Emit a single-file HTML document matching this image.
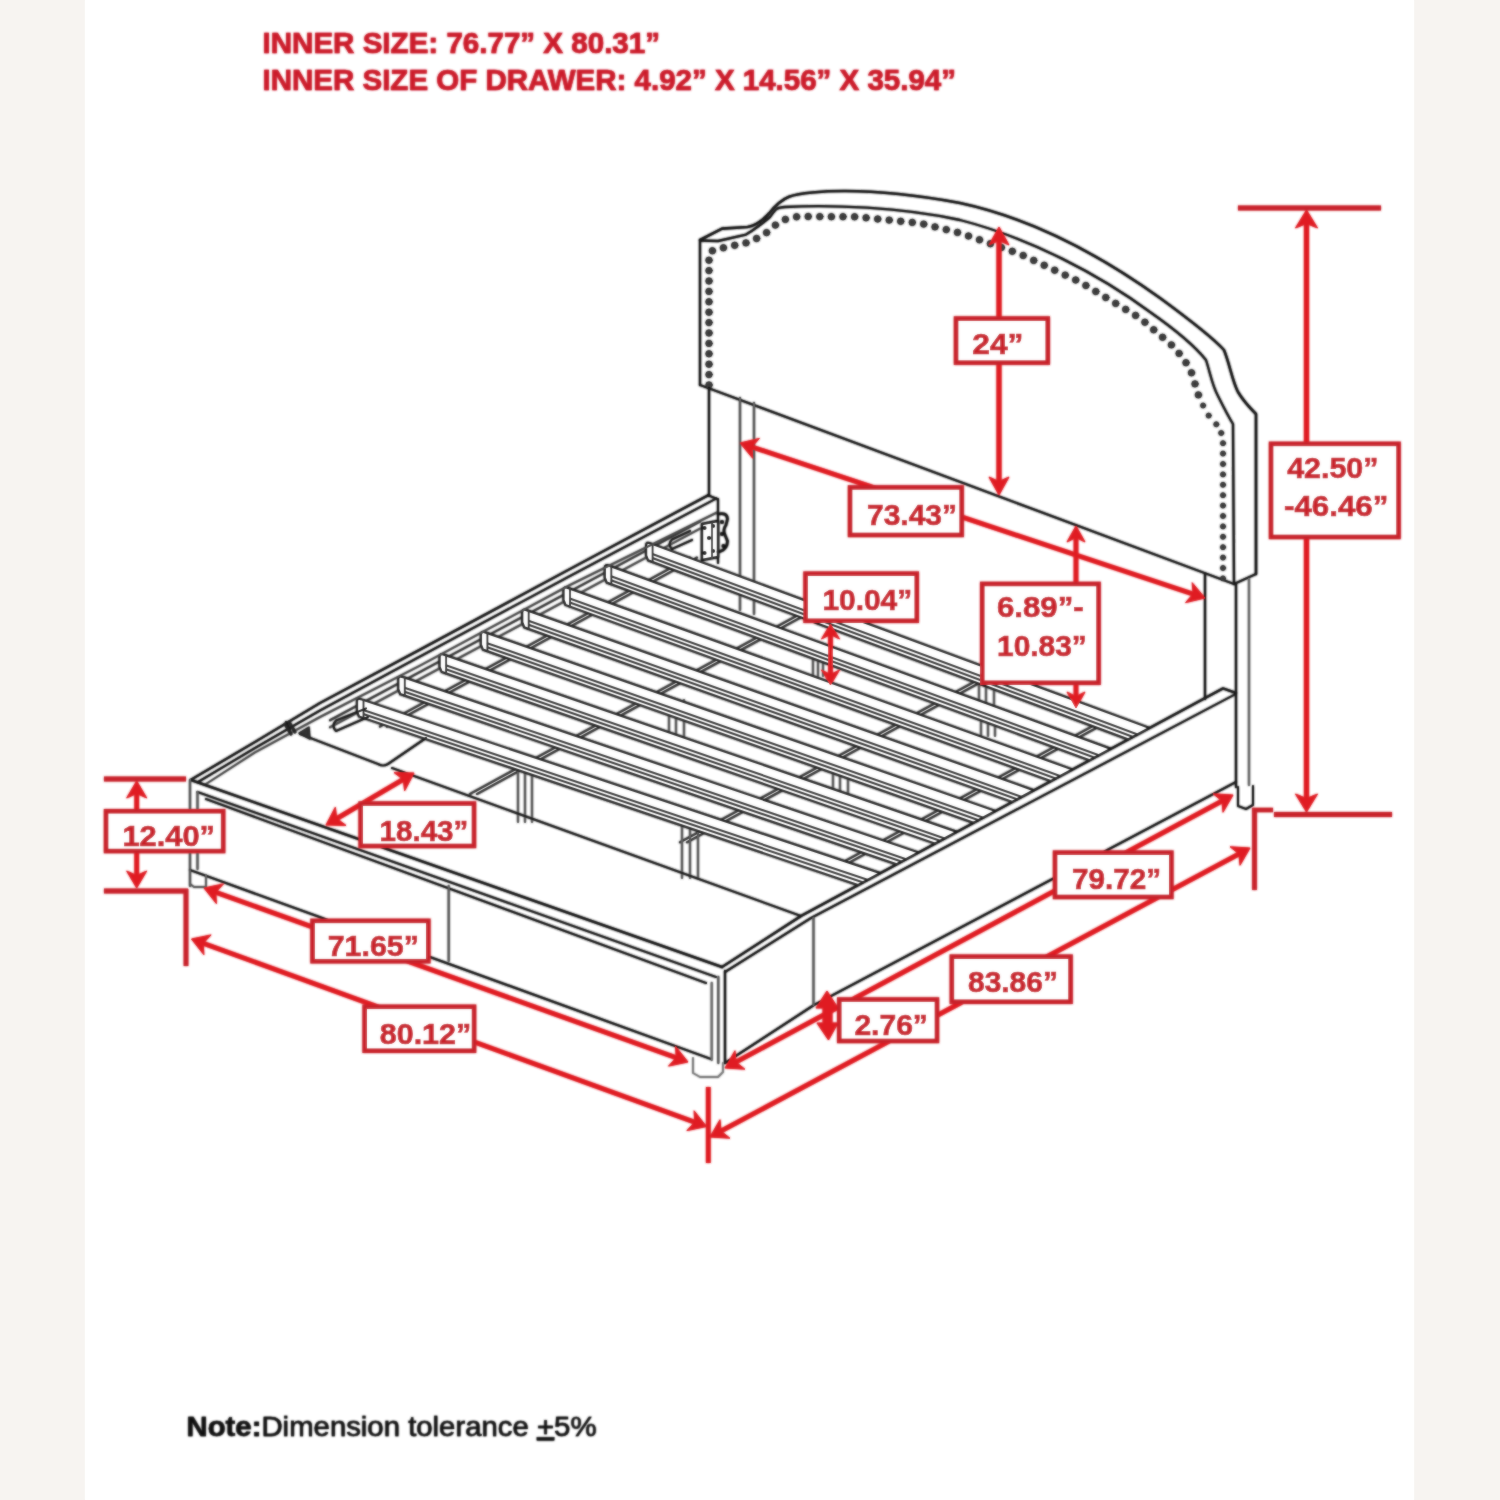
<!DOCTYPE html>
<html><head><meta charset="utf-8"><title>Bed dimensions</title>
<style>
html,body{margin:0;padding:0;width:1500px;height:1500px;overflow:hidden;background:#f7f4f1;}
#page{position:absolute;left:85px;top:0;width:1329px;height:1500px;background:#fff;box-shadow:0 0 1.5px #fafafa;}
svg{position:absolute;left:0;top:0;}
.t{font-family:"Liberation Sans",sans-serif;font-weight:bold;}
</style></head><body>
<div id="page"></div>
<svg width="1500" height="1500" viewBox="0 0 1500 1500">
<defs><filter id="soft" x="0" y="0" width="1500" height="1500" filterUnits="userSpaceOnUse"><feGaussianBlur stdDeviation="1"/></filter>
<clipPath id="sc"><path d="M250,300 L1300,300 L1300,646.9 L600,1024 L250,1024 Z"/></clipPath>
<g id="C">
<g class="t" fill="#cc1c2b" stroke="#cc1c2b" stroke-width="0.6" font-size="30">
<text x="262.5" y="53" textLength="397.5" lengthAdjust="spacingAndGlyphs">INNER SIZE: 76.77” X 80.31”</text>
<text x="262.5" y="90" textLength="693.5" lengthAdjust="spacingAndGlyphs">INNER SIZE OF DRAWER: 4.92” X 14.56” X 35.94”</text>
</g>
<g fill="none" stroke-linecap="round" stroke-linejoin="round">
<path d="M700,240 L722,228.6 L747.6,227 C756,225.5 763,220 769,213.5 C775,206 781,200 789,196.8 C796,194.2 803,193.3 812,192.5 C850,189 900,192 960,203 C1030,218 1100,255 1160,298 C1190,320 1215,340 1224,350 C1230,365 1232,380 1238,392 C1244,402 1250,408 1256,414 L1256,574" stroke="#141414" stroke-width="2.61" fill="none" />
<path d="M700,240.5 L718,241 L746,234.6 C752,231 756,228 759,225.8 C764,222 767,219.5 770,217 C773,213 775,210 777,208.6 C779,207.6 781,207.3 785,207 C830,204.5 900,207 960,220 C1030,238 1100,275 1150,312 C1180,333 1198,350 1206,360 C1210,372 1212,385 1218,396 C1224,408 1228,416 1233,424 L1234,584" stroke="#141414" stroke-width="2.32" fill="none" />
<line x1="700" y1="240" x2="700" y2="385" stroke="#141414" stroke-width="2.32" />
<line x1="700" y1="385" x2="1234" y2="584" stroke="#141414" stroke-width="2.32" />
<line x1="1256" y1="574" x2="1234" y2="584" stroke="#141414" stroke-width="2.32" />
<circle cx="709" cy="385" r="3.2" fill="#3c3c3c" stroke="#222" stroke-width="0.8"/>
<circle cx="709" cy="374.6" r="3.2" fill="#3c3c3c" stroke="#222" stroke-width="0.8"/>
<circle cx="709" cy="364.2" r="3.2" fill="#3c3c3c" stroke="#222" stroke-width="0.8"/>
<circle cx="709" cy="353.8" r="3.2" fill="#3c3c3c" stroke="#222" stroke-width="0.8"/>
<circle cx="709" cy="343.4" r="3.2" fill="#3c3c3c" stroke="#222" stroke-width="0.8"/>
<circle cx="709" cy="333" r="3.2" fill="#3c3c3c" stroke="#222" stroke-width="0.8"/>
<circle cx="709" cy="322.6" r="3.2" fill="#3c3c3c" stroke="#222" stroke-width="0.8"/>
<circle cx="709" cy="312.2" r="3.2" fill="#3c3c3c" stroke="#222" stroke-width="0.8"/>
<circle cx="709" cy="301.8" r="3.2" fill="#3c3c3c" stroke="#222" stroke-width="0.8"/>
<circle cx="709" cy="291.4" r="3.2" fill="#3c3c3c" stroke="#222" stroke-width="0.8"/>
<circle cx="709" cy="281" r="3.2" fill="#3c3c3c" stroke="#222" stroke-width="0.8"/>
<circle cx="709" cy="270.6" r="3.2" fill="#3c3c3c" stroke="#222" stroke-width="0.8"/>
<circle cx="709" cy="260.2" r="3.2" fill="#3c3c3c" stroke="#222" stroke-width="0.8"/>
<circle cx="712.4" cy="250.8" r="3.2" fill="#3c3c3c" stroke="#222" stroke-width="0.8"/>
<circle cx="723.4" cy="247.8" r="3.2" fill="#3c3c3c" stroke="#222" stroke-width="0.8"/>
<circle cx="734.7" cy="245.3" r="3.2" fill="#3c3c3c" stroke="#222" stroke-width="0.8"/>
<circle cx="746" cy="242.9" r="3.2" fill="#3c3c3c" stroke="#222" stroke-width="0.8"/>
<circle cx="756.6" cy="238.5" r="3.2" fill="#3c3c3c" stroke="#222" stroke-width="0.8"/>
<circle cx="766.6" cy="232.6" r="3.2" fill="#3c3c3c" stroke="#222" stroke-width="0.8"/>
<circle cx="775.4" cy="225.1" r="3.2" fill="#3c3c3c" stroke="#222" stroke-width="0.8"/>
<circle cx="785.4" cy="219.4" r="3.2" fill="#3c3c3c" stroke="#222" stroke-width="0.8"/>
<circle cx="796.6" cy="216.8" r="3.2" fill="#3c3c3c" stroke="#222" stroke-width="0.8"/>
<circle cx="808.2" cy="216.5" r="3.2" fill="#3c3c3c" stroke="#222" stroke-width="0.8"/>
<circle cx="819.8" cy="216.6" r="3.2" fill="#3c3c3c" stroke="#222" stroke-width="0.8"/>
<circle cx="831.4" cy="216.7" r="3.2" fill="#3c3c3c" stroke="#222" stroke-width="0.8"/>
<circle cx="843" cy="216.7" r="3.2" fill="#3c3c3c" stroke="#222" stroke-width="0.8"/>
<circle cx="854.6" cy="216.8" r="3.2" fill="#3c3c3c" stroke="#222" stroke-width="0.8"/>
<circle cx="866.1" cy="217.8" r="3.2" fill="#3c3c3c" stroke="#222" stroke-width="0.8"/>
<circle cx="877.7" cy="219" r="3.2" fill="#3c3c3c" stroke="#222" stroke-width="0.8"/>
<circle cx="889.2" cy="220.1" r="3.2" fill="#3c3c3c" stroke="#222" stroke-width="0.8"/>
<circle cx="900.7" cy="221.3" r="3.2" fill="#3c3c3c" stroke="#222" stroke-width="0.8"/>
<circle cx="912.3" cy="222.4" r="3.2" fill="#3c3c3c" stroke="#222" stroke-width="0.8"/>
<circle cx="923.7" cy="224.1" r="3.2" fill="#3c3c3c" stroke="#222" stroke-width="0.8"/>
<circle cx="935" cy="226.9" r="3.2" fill="#3c3c3c" stroke="#222" stroke-width="0.8"/>
<circle cx="946.3" cy="229.6" r="3.2" fill="#3c3c3c" stroke="#222" stroke-width="0.8"/>
<circle cx="957.5" cy="232.4" r="3.2" fill="#3c3c3c" stroke="#222" stroke-width="0.8"/>
<circle cx="968.5" cy="236" r="3.2" fill="#3c3c3c" stroke="#222" stroke-width="0.8"/>
<circle cx="979.5" cy="239.8" r="3.2" fill="#3c3c3c" stroke="#222" stroke-width="0.8"/>
<circle cx="990.4" cy="243.7" r="3.2" fill="#3c3c3c" stroke="#222" stroke-width="0.8"/>
<circle cx="1001.4" cy="247.5" r="3.2" fill="#3c3c3c" stroke="#222" stroke-width="0.8"/>
<circle cx="1012.3" cy="251.3" r="3.2" fill="#3c3c3c" stroke="#222" stroke-width="0.8"/>
<circle cx="1023.2" cy="255.5" r="3.2" fill="#3c3c3c" stroke="#222" stroke-width="0.8"/>
<circle cx="1033.7" cy="260.4" r="3.2" fill="#3c3c3c" stroke="#222" stroke-width="0.8"/>
<circle cx="1044.2" cy="265.3" r="3.2" fill="#3c3c3c" stroke="#222" stroke-width="0.8"/>
<circle cx="1054.7" cy="270.2" r="3.2" fill="#3c3c3c" stroke="#222" stroke-width="0.8"/>
<circle cx="1065.2" cy="275.1" r="3.2" fill="#3c3c3c" stroke="#222" stroke-width="0.8"/>
<circle cx="1075.7" cy="280" r="3.2" fill="#3c3c3c" stroke="#222" stroke-width="0.8"/>
<circle cx="1085.9" cy="285.5" r="3.2" fill="#3c3c3c" stroke="#222" stroke-width="0.8"/>
<circle cx="1095.8" cy="291.5" r="3.2" fill="#3c3c3c" stroke="#222" stroke-width="0.8"/>
<circle cx="1105.8" cy="297.5" r="3.2" fill="#3c3c3c" stroke="#222" stroke-width="0.8"/>
<circle cx="1115.7" cy="303.4" r="3.2" fill="#3c3c3c" stroke="#222" stroke-width="0.8"/>
<circle cx="1125.7" cy="309.4" r="3.2" fill="#3c3c3c" stroke="#222" stroke-width="0.8"/>
<circle cx="1135.6" cy="315.4" r="3.2" fill="#3c3c3c" stroke="#222" stroke-width="0.8"/>
<circle cx="1144.9" cy="322.2" r="3.2" fill="#3c3c3c" stroke="#222" stroke-width="0.8"/>
<circle cx="1153.7" cy="329.8" r="3.2" fill="#3c3c3c" stroke="#222" stroke-width="0.8"/>
<circle cx="1162.6" cy="337.3" r="3.2" fill="#3c3c3c" stroke="#222" stroke-width="0.8"/>
<circle cx="1171.4" cy="344.9" r="3.2" fill="#3c3c3c" stroke="#222" stroke-width="0.8"/>
<circle cx="1179.1" cy="353.4" r="3.2" fill="#3c3c3c" stroke="#222" stroke-width="0.8"/>
<circle cx="1186" cy="362.7" r="3.2" fill="#3c3c3c" stroke="#222" stroke-width="0.8"/>
<circle cx="1191.5" cy="372.8" r="3.2" fill="#3c3c3c" stroke="#222" stroke-width="0.8"/>
<circle cx="1195" cy="383.9" r="3.2" fill="#3c3c3c" stroke="#222" stroke-width="0.8"/>
<circle cx="1198.4" cy="394.9" r="3.2" fill="#3c3c3c" stroke="#222" stroke-width="0.8"/>
<circle cx="1203.1" cy="405.5" r="2.5" fill="#3c3c3c" stroke="#222" stroke-width="0.8"/>
<circle cx="1208.7" cy="415.6" r="2.5" fill="#3c3c3c" stroke="#222" stroke-width="0.8"/>
<circle cx="1216.3" cy="424.3" r="2.5" fill="#3c3c3c" stroke="#222" stroke-width="0.8"/>
<circle cx="1221.2" cy="433" r="2.5" fill="#3c3c3c" stroke="#222" stroke-width="0.8"/>
<circle cx="1223" cy="443.2" r="2.5" fill="#3c3c3c" stroke="#222" stroke-width="0.8"/>
<circle cx="1223" cy="453.6" r="2.5" fill="#3c3c3c" stroke="#222" stroke-width="0.8"/>
<circle cx="1223" cy="464" r="2.5" fill="#3c3c3c" stroke="#222" stroke-width="0.8"/>
<circle cx="1223" cy="474.4" r="2.5" fill="#3c3c3c" stroke="#222" stroke-width="0.8"/>
<circle cx="1223" cy="484.8" r="2.5" fill="#3c3c3c" stroke="#222" stroke-width="0.8"/>
<circle cx="1223" cy="495.2" r="2.5" fill="#3c3c3c" stroke="#222" stroke-width="0.8"/>
<circle cx="1223" cy="505.6" r="2.5" fill="#3c3c3c" stroke="#222" stroke-width="0.8"/>
<circle cx="1223" cy="516" r="2.5" fill="#3c3c3c" stroke="#222" stroke-width="0.8"/>
<circle cx="1223" cy="526.4" r="2.5" fill="#3c3c3c" stroke="#222" stroke-width="0.8"/>
<circle cx="1223" cy="536.8" r="2.5" fill="#3c3c3c" stroke="#222" stroke-width="0.8"/>
<circle cx="1223" cy="547.2" r="2.5" fill="#3c3c3c" stroke="#222" stroke-width="0.8"/>
<circle cx="1223" cy="557.6" r="2.5" fill="#3c3c3c" stroke="#222" stroke-width="0.8"/>
<circle cx="1223" cy="568" r="2.5" fill="#3c3c3c" stroke="#222" stroke-width="0.8"/>
<circle cx="1223" cy="578.4" r="2.5" fill="#3c3c3c" stroke="#222" stroke-width="0.8"/>
<line x1="709" y1="388" x2="709" y2="496" stroke="#141414" stroke-width="2.32" />
<line x1="740" y1="398" x2="740" y2="610" stroke="#555" stroke-width="2.32" />
<line x1="754" y1="403" x2="754" y2="614" stroke="#555" stroke-width="2.32" />
<line x1="1205" y1="574" x2="1205" y2="699" stroke="#141414" stroke-width="2.32" />
<line x1="1236" y1="584" x2="1236" y2="787" stroke="#141414" stroke-width="2.32" />
<line x1="1249" y1="579" x2="1249" y2="785" stroke="#666" stroke-width="2.32" />
<path d="M1238,787 L1238,806 L1246,809 L1253,805 L1253,786" stroke="#141414" stroke-width="2.03" fill="none" />
</g>
<g stroke-linecap="round" stroke-linejoin="round" clip-path="url(#sc)">
<line x1="330" y1="720.3" x2="700" y2="521.6" stroke="#333" stroke-width="2.175" />
<line x1="330" y1="727.3" x2="700" y2="528.6" stroke="#444" stroke-width="2.175" />
<path d="M380,726.6 L690,557.6 L697,557.6 L387,726.6 Z" fill="#d8d8d8" stroke="none"/>
<line x1="380" y1="726.6" x2="690" y2="557.6" stroke="#333" stroke-width="2.32" />
<line x1="387" y1="726.6" x2="697" y2="557.6" stroke="#333" stroke-width="2.32" />
<path d="M470,793.9 L800,614 L807,614 L477,793.9 Z" fill="#d8d8d8" stroke="none"/>
<line x1="470" y1="793.9" x2="800" y2="614" stroke="#333" stroke-width="2.32" />
<line x1="477" y1="793.9" x2="807" y2="614" stroke="#333" stroke-width="2.32" />
<path d="M680,842.3 L985,676.1 L992,676.1 L687,842.3 Z" fill="#d8d8d8" stroke="none"/>
<line x1="680" y1="842.3" x2="985" y2="676.1" stroke="#333" stroke-width="2.32" />
<line x1="687" y1="842.3" x2="992" y2="676.1" stroke="#333" stroke-width="2.32" />
<path d="M825,871.9 L1108,717.7 L1115,717.7 L832,871.9 Z" fill="#d8d8d8" stroke="none"/>
<line x1="825" y1="871.9" x2="1108" y2="717.7" stroke="#333" stroke-width="2.32" />
<line x1="832" y1="871.9" x2="1115" y2="717.7" stroke="#333" stroke-width="2.32" />
<line x1="518" y1="772" x2="518" y2="822" stroke="#555" stroke-width="2.175" />
<line x1="525" y1="772" x2="525" y2="822" stroke="#555" stroke-width="2.175" />
<line x1="532" y1="772" x2="532" y2="822" stroke="#555" stroke-width="2.175" />
<line x1="682" y1="826" x2="682" y2="878" stroke="#555" stroke-width="2.175" />
<line x1="690" y1="826" x2="690" y2="878" stroke="#555" stroke-width="2.175" />
<line x1="698" y1="826" x2="698" y2="878" stroke="#555" stroke-width="2.175" />
<line x1="669" y1="700" x2="669" y2="738" stroke="#555" stroke-width="2.175" />
<line x1="676" y1="700" x2="676" y2="738" stroke="#555" stroke-width="2.175" />
<line x1="684" y1="700" x2="684" y2="738" stroke="#555" stroke-width="2.175" />
<line x1="813" y1="650" x2="813" y2="676" stroke="#555" stroke-width="2.175" />
<line x1="818" y1="650" x2="818" y2="676" stroke="#555" stroke-width="2.175" />
<line x1="823" y1="650" x2="823" y2="676" stroke="#555" stroke-width="2.175" />
<line x1="833" y1="768" x2="833" y2="798" stroke="#555" stroke-width="2.175" />
<line x1="840" y1="768" x2="840" y2="798" stroke="#555" stroke-width="2.175" />
<line x1="848" y1="768" x2="848" y2="798" stroke="#555" stroke-width="2.175" />
<line x1="979" y1="682" x2="979" y2="705" stroke="#555" stroke-width="2.175" />
<line x1="986" y1="682" x2="986" y2="705" stroke="#555" stroke-width="2.175" />
<line x1="994" y1="682" x2="994" y2="705" stroke="#555" stroke-width="2.175" />
<line x1="981" y1="714" x2="981" y2="736" stroke="#555" stroke-width="2.175" />
<line x1="988" y1="714" x2="988" y2="736" stroke="#555" stroke-width="2.175" />
<line x1="995" y1="714" x2="995" y2="736" stroke="#555" stroke-width="2.175" />
<path d="M362,699.5 Q619.7,785.8 880.4,873.2 L885.4,894.3 Q619.7,804.6 359,716.5 L357,711.5 L357,701.5 Q357,697.5 362,699.5 Z" fill="#fff" stroke="#141414" stroke-width="2.3"/>
<path d="M364,710.2 Q619.7,796.3 883.1,885.1" fill="none" stroke="#262626" stroke-width="2.1"/>
<path d="M364,714.2 Q619.7,800.3 884.1,889.4" fill="none" stroke="#262626" stroke-width="2.1"/>
<path d="M363.5,700 L363.5,718" fill="none" stroke="#262626" stroke-width="1.9"/>
<path d="M403.3,677.2 Q659.5,764.3 918.7,852.5 L923.7,873.7 Q659.5,783.1 400.3,694.2 L398.3,689.2 L398.3,679.2 Q398.3,675.2 403.3,677.2 Z" fill="#fff" stroke="#141414" stroke-width="2.3"/>
<path d="M405.3,687.9 Q659.5,774.8 921.5,864.4" fill="none" stroke="#262626" stroke-width="2.1"/>
<path d="M405.3,691.9 Q659.5,778.8 922.5,868.7" fill="none" stroke="#262626" stroke-width="2.1"/>
<path d="M404.8,677.7 L404.8,695.7" fill="none" stroke="#262626" stroke-width="1.9"/>
<path d="M444.6,654.9 Q699.4,742.8 957.1,831.8 L962.1,853 Q699.4,761.6 441.6,671.9 L439.6,666.9 L439.6,656.9 Q439.6,652.9 444.6,654.9 Z" fill="#fff" stroke="#141414" stroke-width="2.3"/>
<path d="M446.6,665.6 Q699.4,753.3 959.9,843.7" fill="none" stroke="#262626" stroke-width="2.1"/>
<path d="M446.6,669.6 Q699.4,757.3 960.9,848.1" fill="none" stroke="#262626" stroke-width="2.1"/>
<path d="M446.1,655.4 L446.1,673.4" fill="none" stroke="#262626" stroke-width="1.9"/>
<path d="M485.9,632.6 Q739.2,721.3 995.6,811 L1000.6,832.3 Q739.2,740.1 482.9,649.6 L480.9,644.6 L480.9,634.6 Q480.9,630.6 485.9,632.6 Z" fill="#fff" stroke="#141414" stroke-width="2.3"/>
<path d="M487.9,643.4 Q739.2,731.8 998.3,823" fill="none" stroke="#262626" stroke-width="2.1"/>
<path d="M487.9,647.4 Q739.2,735.8 999.3,827.4" fill="none" stroke="#262626" stroke-width="2.1"/>
<path d="M487.4,633.1 L487.4,651.1" fill="none" stroke="#262626" stroke-width="1.9"/>
<path d="M527.2,610.4 Q779.1,699.8 1034.1,790.3 L1039.1,811.6 Q779.1,718.6 524.2,627.3 L522.2,622.3 L522.2,612.3 Q522.2,608.3 527.2,610.4 Z" fill="#fff" stroke="#141414" stroke-width="2.3"/>
<path d="M529.2,621.1 Q779.1,710.3 1036.8,802.3" fill="none" stroke="#262626" stroke-width="2.1"/>
<path d="M529.2,625.1 Q779.1,714.3 1037.8,806.6" fill="none" stroke="#262626" stroke-width="2.1"/>
<path d="M528.7,610.8 L528.7,628.8" fill="none" stroke="#262626" stroke-width="1.9"/>
<path d="M568.5,588.1 Q819,678.3 1072.6,769.5 L1077.6,790.8 Q819,697 565.5,605 L563.5,600 L563.5,590 Q563.5,586 568.5,588.1 Z" fill="#fff" stroke="#141414" stroke-width="2.3"/>
<path d="M570.5,598.8 Q819,688.8 1075.3,781.5" fill="none" stroke="#262626" stroke-width="2.1"/>
<path d="M570.5,602.8 Q819,692.8 1076.3,785.9" fill="none" stroke="#262626" stroke-width="2.1"/>
<path d="M570,588.5 L570,606.5" fill="none" stroke="#262626" stroke-width="1.9"/>
<path d="M609.8,565.8 Q859,656.7 1111.1,748.8 L1116.1,770.1 Q859,675.5 606.8,582.7 L604.8,577.7 L604.8,567.7 Q604.8,563.7 609.8,565.8 Z" fill="#fff" stroke="#141414" stroke-width="2.3"/>
<path d="M611.8,576.5 Q859,667.2 1113.9,760.8" fill="none" stroke="#262626" stroke-width="2.1"/>
<path d="M611.8,580.5 Q859,671.2 1114.9,765.1" fill="none" stroke="#262626" stroke-width="2.1"/>
<path d="M611.3,566.2 L611.3,584.2" fill="none" stroke="#262626" stroke-width="1.9"/>
<path d="M651.1,543.5 Q898.9,635.2 1149.7,728 L1154.7,749.3 Q898.9,653.9 648.1,560.4 L646.1,555.4 L646.1,545.4 Q646.1,541.4 651.1,543.5 Z" fill="#fff" stroke="#141414" stroke-width="2.3"/>
<path d="M653.1,554.2 Q898.9,645.7 1152.4,740" fill="none" stroke="#262626" stroke-width="2.1"/>
<path d="M653.1,558.2 Q898.9,649.7 1153.4,744.4" fill="none" stroke="#262626" stroke-width="2.1"/>
<path d="M652.6,543.9 L652.6,561.9" fill="none" stroke="#262626" stroke-width="1.9"/>
</g>
<g fill="none" stroke-linecap="round" stroke-linejoin="round">
<path d="M190.5,780 L255,742 L320,703 L420,649.6 L570,569 L708,495.3" stroke="#141414" stroke-width="2.465" fill="none" />
<path d="M198,782 L255,748 L320,710.5 L420,656.5 L570,576 L716,498.6" stroke="#141414" stroke-width="2.175" fill="none" />
<path d="M206,784 L255,752.3 L320,717 L420,665.6 L570,585 L718,512" stroke="#444" stroke-width="2.03" fill="none" />
<line x1="716" y1="498.6" x2="718" y2="499" stroke="#141414" stroke-width="2.175" />
<line x1="718" y1="499.5" x2="718" y2="563" stroke="#141414" stroke-width="2.175" />
<line x1="708" y1="495.3" x2="716" y2="498.6" stroke="#141414" stroke-width="2.175" />
<path d="M702,524 L718,521 L718,557 L702,560 Z" stroke="#111" stroke-width="2.465" fill="#fff" />
<path d="M718,514 Q727,512 727.5,519 L726,525 Q722.5,530 725,535 L727.5,541 Q727.5,549 720,551.5 L718,552" stroke="#111" stroke-width="2.755" fill="none" />
<circle cx="704.5" cy="528" r="2.1" fill="#111"/>
<circle cx="713" cy="526" r="2.1" fill="#111"/>
<circle cx="709" cy="538" r="2.1" fill="#111"/>
<circle cx="704.5" cy="553" r="2.1" fill="#111"/>
<circle cx="713" cy="551" r="2.1" fill="#111"/>
<circle cx="722" cy="522" r="2.1" fill="#111"/>
<circle cx="723.5" cy="546" r="2.1" fill="#111"/>
<circle cx="722" cy="534" r="2.1" fill="#111"/>
<line x1="712" y1="523" x2="712" y2="558" stroke="#333" stroke-width="1.885" />
<line x1="286" y1="722" x2="290" y2="730" stroke="#141414" stroke-width="2.32" />
<line x1="191" y1="780" x2="722" y2="967" stroke="#141414" stroke-width="2.465" />
<line x1="197.5" y1="792" x2="716" y2="977" stroke="#141414" stroke-width="2.175" />
<line x1="206" y1="799" x2="706" y2="983" stroke="#141414" stroke-width="2.175" />
<line x1="190" y1="780" x2="190" y2="886" stroke="#555" stroke-width="2.32" />
<line x1="197.5" y1="792" x2="197.5" y2="869" stroke="#555" stroke-width="2.32" />
<line x1="190" y1="870" x2="711" y2="1059" stroke="#141414" stroke-width="2.32" />
<line x1="448.7" y1="886" x2="448.7" y2="961" stroke="#555" stroke-width="2.32" />
<path d="M190,870 L190,884 L194,887 L206,887 L206,875" stroke="#555" stroke-width="1.885" fill="none" />
<line x1="711.7" y1="983" x2="711.7" y2="1060" stroke="#666" stroke-width="2.32" />
<line x1="718.3" y1="977" x2="718.3" y2="1063" stroke="#555" stroke-width="2.32" />
<line x1="725" y1="971" x2="725" y2="1063" stroke="#141414" stroke-width="2.32" />
<path d="M693,1058 L693,1073 L700,1077 L718,1077 L723,1072 L723,1063" stroke="#777" stroke-width="1.885" fill="none" />
<path d="M722,967 L801.6,915.6 L1223,688.4 L1236,693" stroke="#141414" stroke-width="2.465" fill="none" />
<path d="M725,972 L811,918 L1235,694.4" stroke="#141414" stroke-width="2.175" fill="none" />
<path d="M725,1063 L814,1005 L1236,782" stroke="#141414" stroke-width="2.32" fill="none" />
<line x1="813.5" y1="918" x2="813.5" y2="1005" stroke="#555" stroke-width="2.32" />
<path d="M300,734 L378,764 Q383,767 388,764 L426,738" stroke="#141414" stroke-width="2.175" fill="none" />
<line x1="392" y1="768" x2="801" y2="916" stroke="#141414" stroke-width="2.175" />
<path d="M366,708.5 L336,720.5 Q331,726 336,731 L368,717" stroke="#141414" stroke-width="2.175" fill="none" />
<path d="M690,531 L672,539.5 Q667,544 672,549 L692,540" stroke="#141414" stroke-width="2.175" fill="none" />
<path d="M299,733 L309,727 L310,739 Z" stroke="#222" stroke-width="1.45" fill="#333" />
<line x1="285" y1="724" x2="291" y2="734" stroke="#222" stroke-width="3.19" />
<line x1="289" y1="722" x2="295" y2="732" stroke="#222" stroke-width="3.19" />
</g>
<line x1="1238" y1="208" x2="1381" y2="208" stroke="#c9222b" stroke-width="5" />
<line x1="1274" y1="814.5" x2="1392" y2="814.5" stroke="#c9222b" stroke-width="5" />
<line x1="1252.5" y1="810" x2="1273" y2="810" stroke="#c9222b" stroke-width="4.5" />
<line x1="1254.5" y1="808" x2="1254.5" y2="890" stroke="#c9222b" stroke-width="4.8" />
<line x1="1306.5" y1="218" x2="1306.5" y2="804" stroke="#e01b22" stroke-width="5.2" />
<path d="M1306.5,812 L1295.5,794 L1306.5,798.5 L1317.5,794 Z" fill="#e01b22" stroke="#e01b22" stroke-width="1" stroke-linejoin="round"/>
<path d="M1306.5,210 L1317.5,228 L1306.5,223.5 L1295.5,228 Z" fill="#e01b22" stroke="#e01b22" stroke-width="1" stroke-linejoin="round"/>
<rect x="1271.1" y="443.9" width="127.4" height="93" fill="#fff" stroke="#c9222b" stroke-width="4.6"/>
<text x="1287.2" y="478.4" textLength="91.3" lengthAdjust="spacingAndGlyphs" class="t" font-size="30" fill="#c9222b" stroke="#c9222b" stroke-width="0.7">42.50”</text>
<text x="1284" y="516" textLength="104.3" lengthAdjust="spacingAndGlyphs" class="t" font-size="30" fill="#c9222b" stroke="#c9222b" stroke-width="0.7">-46.46”</text>
<line x1="999" y1="235" x2="999" y2="487" stroke="#e01b22" stroke-width="5.2" />
<path d="M999,495 L989,477 L999,481.5 L1009,477 Z" fill="#e01b22" stroke="#e01b22" stroke-width="1" stroke-linejoin="round"/>
<path d="M999,227 L1009,245 L999,240.5 L989,245 Z" fill="#e01b22" stroke="#e01b22" stroke-width="1" stroke-linejoin="round"/>
<rect x="956.1" y="318.6" width="91.6" height="44" fill="#fff" stroke="#c9222b" stroke-width="4.6"/>
<text x="972.3" y="354.2" textLength="51.2" lengthAdjust="spacingAndGlyphs" class="t" font-size="30" fill="#c9222b" stroke="#c9222b" stroke-width="0.7">24”</text>
<line x1="747.6" y1="445.5" x2="1197.4" y2="595.5" stroke="#e01b22" stroke-width="4.8" />
<path d="M1205,598 L1185.6,602.6 L1193.1,594 L1192.2,582.7 Z" fill="#e01b22" stroke="#e01b22" stroke-width="1" stroke-linejoin="round"/>
<path d="M740,443 L759.4,438.4 L751.9,447 L752.8,458.3 Z" fill="#e01b22" stroke="#e01b22" stroke-width="1" stroke-linejoin="round"/>
<rect x="850.1" y="487.5" width="111.5" height="47.4" fill="#fff" stroke="#c9222b" stroke-width="4.6"/>
<text x="867" y="524.6" textLength="90" lengthAdjust="spacingAndGlyphs" class="t" font-size="30" fill="#c9222b" stroke="#c9222b" stroke-width="0.7">73.43”</text>
<rect x="805.6" y="573.7" width="111.1" height="47" fill="#fff" stroke="#c9222b" stroke-width="4.6"/>
<text x="822.4" y="609.6" textLength="89.8" lengthAdjust="spacingAndGlyphs" class="t" font-size="30" fill="#c9222b" stroke="#c9222b" stroke-width="0.7">10.04”</text>
<line x1="830.5" y1="632" x2="830.5" y2="677" stroke="#e01b22" stroke-width="4.8" />
<path d="M830.5,685 L821.5,670 L830.5,674.5 L839.5,670 Z" fill="#e01b22" stroke="#e01b22" stroke-width="1" stroke-linejoin="round"/>
<path d="M830.5,624 L839.5,639 L830.5,634.5 L821.5,639 Z" fill="#e01b22" stroke="#e01b22" stroke-width="1" stroke-linejoin="round"/>
<line x1="1076" y1="534" x2="1076" y2="700" stroke="#e01b22" stroke-width="4.8" />
<path d="M1076,708 L1067,692 L1076,696.5 L1085,692 Z" fill="#e01b22" stroke="#e01b22" stroke-width="1" stroke-linejoin="round"/>
<path d="M1076,526 L1085,542 L1076,537.5 L1067,542 Z" fill="#e01b22" stroke="#e01b22" stroke-width="1" stroke-linejoin="round"/>
<rect x="982.3" y="584" width="116.2" height="98.7" fill="#fff" stroke="#c9222b" stroke-width="4.6"/>
<text x="997" y="616.8" textLength="86.7" lengthAdjust="spacingAndGlyphs" class="t" font-size="30" fill="#c9222b" stroke="#c9222b" stroke-width="0.7">6.89”-</text>
<text x="997" y="656.1" textLength="89.8" lengthAdjust="spacingAndGlyphs" class="t" font-size="30" fill="#c9222b" stroke="#c9222b" stroke-width="0.7">10.83”</text>
<line x1="104" y1="779" x2="186" y2="779" stroke="#c9222b" stroke-width="5" />
<line x1="104" y1="891" x2="188" y2="891" stroke="#c9222b" stroke-width="5" />
<line x1="186" y1="889" x2="186" y2="966" stroke="#c9222b" stroke-width="4.8" />
<line x1="136.7" y1="789" x2="136.7" y2="880" stroke="#e01b22" stroke-width="4.8" />
<path d="M136.7,888 L126.7,871 L136.7,875.5 L146.7,871 Z" fill="#e01b22" stroke="#e01b22" stroke-width="1" stroke-linejoin="round"/>
<path d="M136.7,781 L146.7,798 L136.7,793.5 L126.7,798 Z" fill="#e01b22" stroke="#e01b22" stroke-width="1" stroke-linejoin="round"/>
<rect x="106.1" y="811.3" width="117" height="39.7" fill="#fff" stroke="#c9222b" stroke-width="4.6"/>
<text x="122.4" y="845.7" textLength="92.6" lengthAdjust="spacingAndGlyphs" class="t" font-size="30" fill="#c9222b" stroke="#c9222b" stroke-width="0.7">12.40”</text>
<line x1="332.9" y1="820.9" x2="407.1" y2="777.1" stroke="#e01b22" stroke-width="4.8" />
<path d="M414,773 L404.7,790.7 L403.2,779.4 L394,772.6 Z" fill="#e01b22" stroke="#e01b22" stroke-width="1" stroke-linejoin="round"/>
<path d="M326,825 L335.3,807.3 L336.8,818.6 L346,825.4 Z" fill="#e01b22" stroke="#e01b22" stroke-width="1" stroke-linejoin="round"/>
<rect x="360.7" y="803.6" width="113.2" height="42.3" fill="#fff" stroke="#c9222b" stroke-width="4.6"/>
<text x="379.6" y="840.6" textLength="88.7" lengthAdjust="spacingAndGlyphs" class="t" font-size="30" fill="#c9222b" stroke="#c9222b" stroke-width="0.7">18.43”</text>
<line x1="211.5" y1="890.7" x2="680.5" y2="1059.3" stroke="#e01b22" stroke-width="4.8" />
<path d="M688,1062 L668.5,1066.1 L676.2,1057.8 L675.6,1046.4 Z" fill="#e01b22" stroke="#e01b22" stroke-width="1" stroke-linejoin="round"/>
<path d="M204,888 L223.5,883.9 L215.8,892.2 L216.4,903.6 Z" fill="#e01b22" stroke="#e01b22" stroke-width="1" stroke-linejoin="round"/>
<rect x="312.6" y="920.9" width="115.7" height="40.3" fill="#fff" stroke="#c9222b" stroke-width="4.6"/>
<text x="327.7" y="955.9" textLength="91.2" lengthAdjust="spacingAndGlyphs" class="t" font-size="30" fill="#c9222b" stroke="#c9222b" stroke-width="0.7">71.65”</text>
<line x1="199" y1="941.7" x2="699" y2="1123.8" stroke="#e01b22" stroke-width="4.8" />
<path d="M706.5,1126.5 L686.9,1130.6 L694.8,1122.2 L694.1,1110.8 Z" fill="#e01b22" stroke="#e01b22" stroke-width="1" stroke-linejoin="round"/>
<path d="M191.5,939 L211.1,934.9 L203.2,943.3 L203.9,954.7 Z" fill="#e01b22" stroke="#e01b22" stroke-width="1" stroke-linejoin="round"/>
<line x1="708.3" y1="1087" x2="708.3" y2="1163" stroke="#e01b22" stroke-width="4.8" />
<rect x="364.7" y="1006.8" width="109.3" height="43.9" fill="#fff" stroke="#c9222b" stroke-width="4.6"/>
<text x="379.8" y="1044" textLength="91.4" lengthAdjust="spacingAndGlyphs" class="t" font-size="30" fill="#c9222b" stroke="#c9222b" stroke-width="0.7">80.12”</text>
<line x1="717.1" y1="1133.2" x2="1242.9" y2="851.8" stroke="#e01b22" stroke-width="4.8" />
<path d="M1250,848 L1240,865.3 L1239,853.9 L1230.1,846.8 Z" fill="#e01b22" stroke="#e01b22" stroke-width="1" stroke-linejoin="round"/>
<path d="M710,1137 L720,1119.7 L721,1131.1 L729.9,1138.2 Z" fill="#e01b22" stroke="#e01b22" stroke-width="1" stroke-linejoin="round"/>
<rect x="951.9" y="956.7" width="118.6" height="45" fill="#fff" stroke="#c9222b" stroke-width="4.6"/>
<text x="968" y="992" textLength="89.9" lengthAdjust="spacingAndGlyphs" class="t" font-size="30" fill="#c9222b" stroke="#c9222b" stroke-width="0.7">83.86”</text>
<line x1="732" y1="1064.2" x2="1226" y2="798.8" stroke="#e01b22" stroke-width="4.8" />
<path d="M1233,795 L1223,812.3 L1222,800.9 L1213.1,793.8 Z" fill="#e01b22" stroke="#e01b22" stroke-width="1" stroke-linejoin="round"/>
<path d="M725,1068 L735,1050.7 L736,1062.1 L744.9,1069.2 Z" fill="#e01b22" stroke="#e01b22" stroke-width="1" stroke-linejoin="round"/>
<rect x="1055.1" y="852.7" width="116.2" height="44.2" fill="#fff" stroke="#c9222b" stroke-width="4.6"/>
<text x="1072" y="888.8" textLength="89.1" lengthAdjust="spacingAndGlyphs" class="t" font-size="30" fill="#c9222b" stroke="#c9222b" stroke-width="0.7">79.72”</text>
<path d="M827,991 L838,1008 L832,1008 L832,1023 L838,1023 L828.5,1040 L817,1023 L823,1023 L823,1008 L816,1008 Z" fill="#e01b22" stroke="#e01b22" stroke-width="1"/>
<rect x="839.3" y="999.6" width="97.6" height="41.3" fill="#fff" stroke="#c9222b" stroke-width="4.6"/>
<text x="854.4" y="1035.4" textLength="73.5" lengthAdjust="spacingAndGlyphs" class="t" font-size="30" fill="#c9222b" stroke="#c9222b" stroke-width="0.7">2.76”</text>
<text x="186.5" y="1435.5" font-family="Liberation Sans, sans-serif" font-size="28.5" fill="#111" stroke="#111" stroke-width="0.45" textLength="410" lengthAdjust="spacingAndGlyphs"><tspan font-weight="bold">Note:</tspan>Dimension tolerance <tspan text-decoration="underline">+</tspan>5%</text>
</g>
</defs>
<use href="#C" filter="url(#soft)"/>
<use href="#C" opacity="0.5"/>
</svg>
</body></html>
